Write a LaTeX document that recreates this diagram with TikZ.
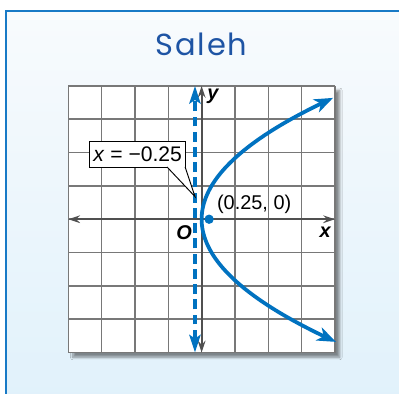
\documentclass[tikz,border=0pt]{standalone}
\usepackage{fontspec}
\setmainfont{Liberation Sans}
\newfontfamily\handfont[LetterSpace=6]{Poppins}
\usetikzlibrary{arrows.meta, positioning, calc, shadows.blur}

\definecolor{panelblue}{RGB}{24,122,198}
\definecolor{paneltop}{RGB}{248,251,253}
\definecolor{panelbot}{RGB}{224,241,251}
\definecolor{inkblue}{RGB}{30,84,164}
\definecolor{curveblue}{RGB}{0,114,192}
\definecolor{axisgray}{RGB}{80,80,80}
\definecolor{gridgray}{RGB}{120,120,120}

\tikzset{
  gridline/.style={gridgray, line width=1.3pt},
  axisline/.style={axisgray, line width=1.7pt, {Stealth[length=10pt,width=6.5pt]}-{Stealth[length=10pt,width=6.5pt]}},
  dirline/.style={curveblue, line width=3.2pt, dash pattern=on 8.5pt off 4.5pt, {Stealth[length=15pt,width=9.5pt,inset=3pt]}-{Stealth[length=15pt,width=9.5pt,inset=3pt]}},
  curveline/.style={curveblue, line width=3.2pt, {Stealth[length=16pt,width=12pt,inset=4.5pt]}-{Stealth[length=16pt,width=12pt,inset=4.5pt]}},
  axlbl/.style={font=\fontsize{17}{17}\selectfont\bfseries\itshape, inner sep=0pt},
  lbl/.style={font=\fontsize{17}{17}\selectfont, inner sep=0pt},
  focusdot/.style={circle, fill=curveblue, inner sep=0pt, minimum size=0.28cm}
}

\begin{document}
\begin{tikzpicture}[x=0.8cm, y=0.8cm]
  \clip (-7.56,-6.55) rectangle (7.40,8.22);

  % Panel
  \draw[panelblue, line width=2pt, top color=paneltop, bottom color=panelbot] (-7.34,7.81) rectangle (8,-7.2);
  \node[font=\handfont\fontsize{26}{28}\selectfont, text=inkblue] (title) at (0,6.55) {Saleh};

  % Grid
  \fill[white, blur shadow={shadow xshift=4pt, shadow yshift=-4pt, shadow blur steps=8, shadow opacity=45}] (-5,-5) rectangle (5,5);
  \draw[gridline] (-5,-5) grid (5,5);

  % Axes
  \coordinate (xl) at (-5,0);
  \coordinate (xr) at (5,0);
  \coordinate (yb) at (0,-5);
  \coordinate (yt) at (0,5);
  \draw[axisline] (xl) -- (xr);
  \draw[axisline] (yb) -- (yt);
  \node[axlbl] (ylbl) at (0.42,4.6) {y};
  \node[axlbl] (xlbl) at (4.63,-0.48) {x};
  \node[axlbl] (olbl) at (-0.66,-0.51) {O};

  % Directrix
  \coordinate (dt) at (-0.25,5);
  \coordinate (db) at (-0.25,-5);
  \draw[dirline] (db) -- (dt);

  % Parabola
  \draw[curveline] plot[domain=4.55:-4.6, samples=80, variable=\t] ({\t*\t/4.2}, \t);
  \node[focusdot] (focus) at (0.28,0) {};
  \node[lbl] (foclbl) at (1.97,0.54) {(0.25, 0)};

  % Callout
  \coordinate (tip) at (-0.25,0.85);
  \node[lbl, font=\fontsize{18}{18}\selectfont, draw, line width=0.8pt, fill=white, minimum width=2.87cm, minimum height=0.77cm] (dirlbl) at (-2.4,2.43) {\textit{x} = −0.25};
  \draw[line width=0.8pt, fill=white] ($(dirlbl.south east)+(-0.71,0.03)$) -- (tip) -- ($(dirlbl.south east)+(-0.03,0.03)$);
\end{tikzpicture}
\end{document}
